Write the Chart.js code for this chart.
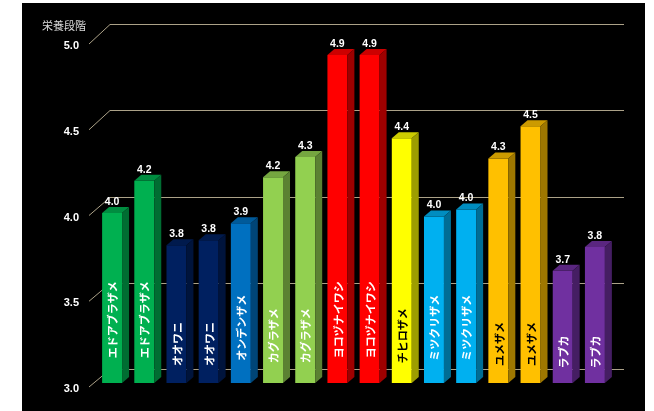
<!DOCTYPE html>
<html>
<head>
<meta charset="utf-8">
<script src="https://cdn.jsdelivr.net/npm/chart.js@4/dist/chart.umd.min.js"></script>
<style>
html,body{margin:0;padding:0;background:#fff;}
canvas{display:block;}
</style>
</head>
<body>
<canvas id="c" width="654" height="411"></canvas>
<script>
// ---- data ----
const categories = ["エドアブラザメ","エドアブラザメ","オオワニ","オオワニ","オンデンザメ","カグラザメ","カグラザメ","ヨコヅナイワシ","ヨコヅナイワシ","チヒロザメ","ミツクリザメ","ミツクリザメ","ユメザメ","ユメザメ","ラブカ","ラブカ"];
const trophicLevels = [4.00, 4.19, 3.81, 3.84, 3.94, 4.21, 4.33, 4.93, 4.93, 4.44, 3.98, 4.02, 4.32, 4.51, 3.66, 3.80];
const yTickValues = [3.0, 3.5, 4.0, 4.5, 5.0];
const axisTitle = "栄養段階";
// ---- styles ----
const barColors = ["#00b050","#00b050","#002060","#002060","#0070c0","#92d050","#92d050","#ff0000","#ff0000","#ffff00","#00b0f0","#00b0f0","#ffc000","#ffc000","#7030a0","#7030a0"];
const darkText = ["#ffff00","#ffc000"];

function shade(hex, f){
  const n = parseInt(hex.slice(1),16);
  const r = Math.round(((n>>16)&255)*f), g = Math.round(((n>>8)&255)*f), b = Math.round((n&255)*f);
  return `rgb(${r},${g},${b})`;
}

const DX = 7, DY = 6;
const NUM_FONT = '"Liberation Sans Narrow","Liberation Sans",sans-serif';
const JP_FONT = '"Noto Sans CJK JP","Noto Sans",sans-serif';

const backdrop = {
  id:'backdrop',
  beforeDraw(chart){
    const ctx = chart.ctx;
    const y = chart.scales.y;
    ctx.save();
    ctx.fillStyle = '#ffffff';
    ctx.fillRect(0,0,chart.width,chart.height);
    ctx.fillStyle = '#000000';
    ctx.fillRect(22,3,623,408);
    // title
    ctx.fillStyle = '#d9d9d9';
    ctx.font = '11px ' + JP_FONT;
    ctx.textAlign = 'left';
    ctx.textBaseline = 'middle';
    ctx.fillText(axisTitle, 42, 26);
    // back gridlines + diagonals + tick labels
    ctx.strokeStyle = 'rgb(172,162,136)';
    ctx.lineWidth = 1;
    yTickValues.forEach(v=>{
      const py = y.getPixelForValue(v);
      const backY = Math.round(py - 14 - (v-3)*2.5) + 0.5;
      const labY = py + 6 - (v-3)*1.5;
      ctx.beginPath();
      ctx.moveTo(89, labY-2);
      ctx.lineTo(110, backY);
      ctx.lineTo(624, backY);
      ctx.stroke();
      ctx.fillStyle = '#ffffff';
      ctx.font = 'bold 11px ' + NUM_FONT;
      ctx.textAlign = 'right';
      ctx.textBaseline = 'middle';
      ctx.fillText(v.toFixed(1), 79, labY);
    });
    ctx.restore();
  }
};

const bars3d = {
  id:'bars3d',
  afterDatasetsDraw(chart){
    const ctx = chart.ctx;
    const meta = chart.getDatasetMeta(0);
    const yScale = chart.scales.y;
    ctx.save();
    meta.data.forEach((bar,i)=>{
      const p = bar.getProps(['x','y','base','width'], true);
      const l = p.x - p.width/2, r = p.x + p.width/2, t = p.y;
      const b = Math.min(p.base, yScale.getPixelForValue(yScale.min));
      const col = barColors[i];
      // top face
      ctx.fillStyle = shade(col, 0.8);
      ctx.beginPath();
      ctx.moveTo(l,t); ctx.lineTo(l+DX,t-DY); ctx.lineTo(r+DX,t-DY); ctx.lineTo(r,t); ctx.closePath();
      ctx.fill();
      // side face
      ctx.fillStyle = shade(col, 0.62);
      ctx.beginPath();
      ctx.moveTo(r,t); ctx.lineTo(r+DX,t-DY); ctx.lineTo(r+DX,b-DY); ctx.lineTo(r,b); ctx.closePath();
      ctx.fill();
      // value label
      ctx.fillStyle = '#ffffff';
      ctx.font = 'bold 10.5px ' + NUM_FONT;
      ctx.textAlign = 'center';
      ctx.textBaseline = 'middle';
      ctx.fillText(trophicLevels[i].toFixed(1), p.x, t - 11);
      // category label, rotated
      ctx.font = 'bold 11px ' + JP_FONT;
      const len = ctx.measureText(categories[i]).width;
      const cy = b - (7 + 0.73*len);
      ctx.save();
      ctx.translate(p.x, cy);
      ctx.rotate(-Math.PI/2);
      ctx.fillStyle = darkText.includes(col) ? '#000000' : '#ffffff';
      ctx.textAlign = 'center';
      ctx.textBaseline = 'middle';
      ctx.fillText(categories[i], 0, 1);
      ctx.restore();
    });
    ctx.restore();
  }
};

new Chart(document.getElementById('c'), {
  type:'bar',
  data:{
    labels: categories.map((c,i)=>c+'#'+i),
    datasets:[{
      data: trophicLevels,
      backgroundColor: barColors,
      borderWidth: 0,
      barPercentage: 0.62,
      categoryPercentage: 1.0
    }]
  },
  options:{
    responsive:false,
    animation:false,
    devicePixelRatio:1,
    layout:{padding:{left:96, right:43, top:43, bottom:28}},
    plugins:{legend:{display:false}, tooltip:{enabled:false}},
    scales:{
      x:{display:false, offset:true},
      y:{display:false, min:3, max:5}
    }
  },
  plugins:[backdrop, bars3d]
});
</script>
</body>
</html>
